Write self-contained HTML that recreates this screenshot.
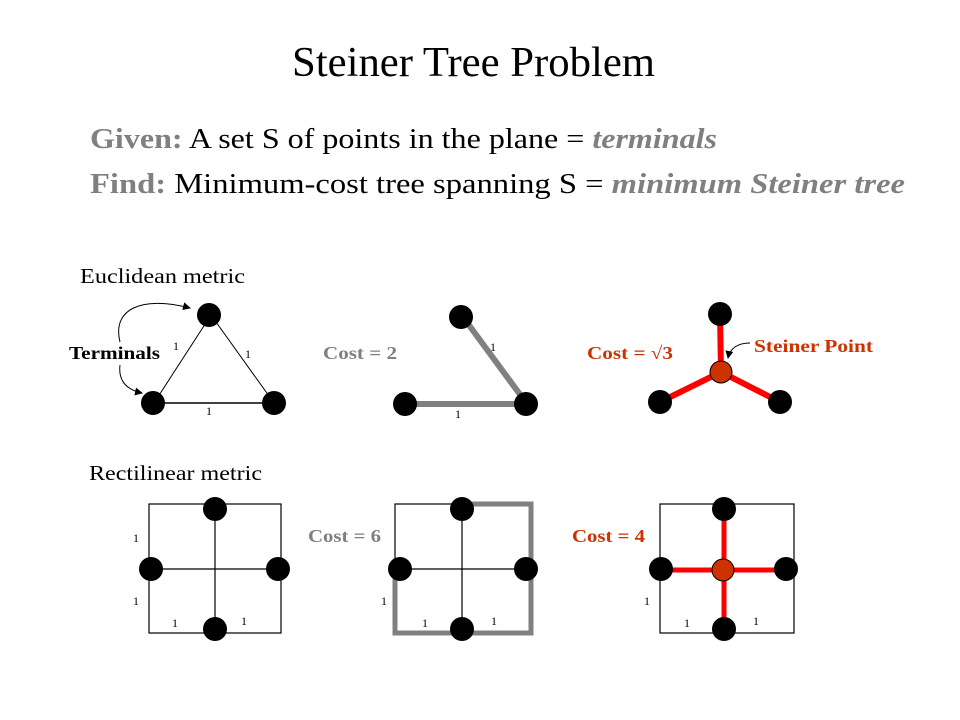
<!DOCTYPE html>
<html><head><meta charset="utf-8"><style>
html,body{margin:0;padding:0;background:#fff;}
svg{display:block;}
text{font-family:"Liberation Serif",serif;}
</style></head><body>
<svg width="960" height="720" viewBox="0 0 960 720" xmlns="http://www.w3.org/2000/svg">
<defs><marker id="ah" markerWidth="8" markerHeight="8" refX="7" refY="4" orient="auto" markerUnits="userSpaceOnUse"><path d="M0,0 L8,4 L0,8 z" fill="#000"/></marker></defs>
<text x="292" y="76" font-size="42" textLength="363" lengthAdjust="spacingAndGlyphs">Steiner Tree Problem</text>
<text x="90" y="148" font-size="29" textLength="627" lengthAdjust="spacingAndGlyphs"><tspan fill="#808080" font-weight="bold">Given:</tspan> A set S of points in the plane = <tspan fill="#808080" font-weight="bold" font-style="italic">terminals</tspan></text>
<text x="90" y="193" font-size="29" textLength="815" lengthAdjust="spacingAndGlyphs"><tspan fill="#808080" font-weight="bold">Find:</tspan>   Minimum-cost  tree spanning  S = <tspan fill="#808080" font-weight="bold" font-style="italic">minimum Steiner tree</tspan></text>

<text x="80" y="283" font-size="21" textLength="165" lengthAdjust="spacingAndGlyphs">Euclidean metric</text>
<text x="89" y="480" font-size="21" textLength="173" lengthAdjust="spacingAndGlyphs">Rectilinear metric</text>

<!-- triangle 1 -->
<line x1="211" y1="315" x2="154" y2="403" stroke="#000" stroke-width="1"/>
<line x1="211" y1="315" x2="274" y2="403" stroke="#000" stroke-width="1"/>
<line x1="154" y1="403" x2="274" y2="403" stroke="#000" stroke-width="1.5"/>
<circle cx="209" cy="315" r="12"/><circle cx="153" cy="403" r="12"/><circle cx="274" cy="403" r="12"/>
<text x="69" y="359" font-size="18" font-weight="bold" textLength="91" lengthAdjust="spacingAndGlyphs">Terminals</text>
<path d="M120,342 C112,310 140,295 190,308" fill="none" stroke="#000" marker-end="url(#ah)"/>
<path d="M120,365 C118,382 128,390 142,393" fill="none" stroke="#000" marker-end="url(#ah)"/>
<text x="173" y="350" font-size="12">1</text>
<text x="245" y="358" font-size="12">1</text>
<text x="206" y="415" font-size="12">1</text>

<!-- triangle 2 -->
<line x1="463" y1="317" x2="527" y2="404" stroke="#808080" stroke-width="6"/>
<line x1="407" y1="404" x2="527" y2="404" stroke="#808080" stroke-width="6"/>
<circle cx="461" cy="317" r="12"/><circle cx="405" cy="404" r="12"/><circle cx="526" cy="404" r="12"/>
<text x="323" y="359" font-size="18" font-weight="bold" fill="#808080" textLength="74" lengthAdjust="spacingAndGlyphs">Cost = 2</text>
<text x="490" y="351" font-size="12">1</text>
<text x="455" y="418" font-size="12">1</text>

<!-- triangle 3 -->
<line x1="720" y1="314" x2="721" y2="372" stroke="#f00" stroke-width="6"/>
<line x1="721" y1="372" x2="660" y2="402" stroke="#f00" stroke-width="6"/>
<line x1="721" y1="372" x2="780" y2="402" stroke="#f00" stroke-width="6"/>
<circle cx="720" cy="314" r="12"/><circle cx="660" cy="402" r="12"/><circle cx="780" cy="402" r="12"/>
<circle cx="721" cy="372" r="11" fill="#cc3300" stroke="#000" stroke-width="1"/>
<text x="587" y="359" font-size="18" font-weight="bold" fill="#cc3300" textLength="86" lengthAdjust="spacingAndGlyphs">Cost = √3</text>
<text x="754" y="352" font-size="18" font-weight="bold" fill="#cc3300" textLength="119" lengthAdjust="spacingAndGlyphs">Steiner Point</text>
<path d="M750,343 C738,343 730,348 728,358" fill="none" stroke="#000" marker-end="url(#ah)"/>

<!-- rect 1 -->
<rect x="149" y="504" width="132" height="129" fill="none" stroke="#000" stroke-width="1.2"/>
<line x1="215" y1="509" x2="215" y2="629" stroke="#000" stroke-width="1.2"/>
<line x1="151" y1="569" x2="278" y2="569" stroke="#000" stroke-width="1.2"/>
<circle cx="215" cy="509" r="12"/><circle cx="151" cy="569" r="12"/><circle cx="278" cy="569" r="12"/><circle cx="215" cy="629" r="12"/>
<text x="133" y="542" font-size="12">1</text>
<text x="133" y="605" font-size="12">1</text>
<text x="172" y="627" font-size="12">1</text>
<text x="241" y="625" font-size="12">1</text>

<!-- rect 2 -->
<rect x="395" y="504" width="136" height="129" fill="none" stroke="#000" stroke-width="1.2"/>
<line x1="462" y1="509" x2="462" y2="629" stroke="#000" stroke-width="1.2"/>
<line x1="400" y1="569" x2="526" y2="569" stroke="#000" stroke-width="1.2"/>
<path d="M462,504 L531,504 L531,633 L395,633 L395,569" fill="none" stroke="#808080" stroke-width="5"/>
<circle cx="462" cy="509" r="12"/><circle cx="400" cy="569" r="12"/><circle cx="526" cy="569" r="12"/><circle cx="462" cy="629" r="12"/>
<text x="308" y="542" font-size="18" font-weight="bold" fill="#808080" textLength="73" lengthAdjust="spacingAndGlyphs">Cost = 6</text>
<text x="381" y="605" font-size="12">1</text>
<text x="422" y="627" font-size="12">1</text>
<text x="491" y="625" font-size="12">1</text>

<!-- rect 3 -->
<rect x="660" y="504" width="134" height="129" fill="none" stroke="#000" stroke-width="1.2"/>
<line x1="724" y1="509" x2="724" y2="629" stroke="#f00" stroke-width="5"/>
<line x1="660" y1="570" x2="786" y2="570" stroke="#f00" stroke-width="5"/>
<circle cx="724" cy="509" r="12"/><circle cx="661" cy="569" r="12"/><circle cx="786" cy="569" r="12"/><circle cx="724" cy="629" r="12"/>
<circle cx="723" cy="570" r="11" fill="#cc3300" stroke="#000" stroke-width="1"/>
<text x="572" y="542" font-size="18" font-weight="bold" fill="#cc3300" textLength="73" lengthAdjust="spacingAndGlyphs">Cost = 4</text>
<text x="644" y="605" font-size="12">1</text>
<text x="684" y="627" font-size="12">1</text>
<text x="753" y="625" font-size="12">1</text>
</svg>
</body></html>
